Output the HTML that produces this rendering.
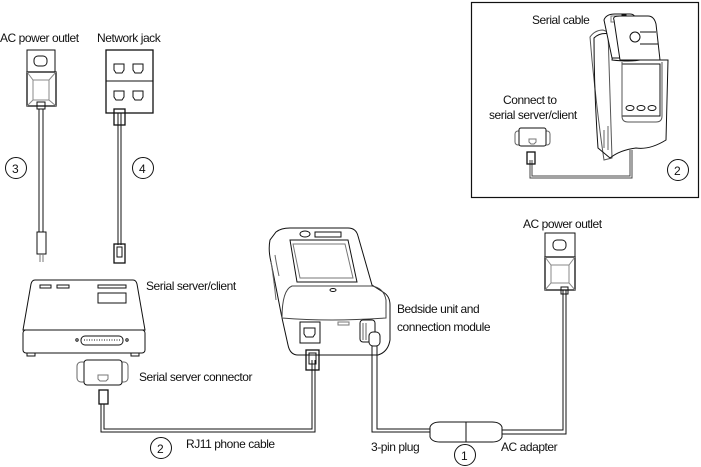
<!DOCTYPE html>
<html><head><meta charset="utf-8"><style>
html,body{margin:0;padding:0;background:#fff;width:701px;height:467px;overflow:hidden}
svg{display:block}
text{font-family:"Liberation Sans",sans-serif;font-size:12px;fill:#111;letter-spacing:-0.45px}
</style></head><body>
<svg width="701" height="467" viewBox="0 0 701 467" xmlns="http://www.w3.org/2000/svg" fill="none" stroke="#111" stroke-width="1">
<rect x="471.5" y="2.5" width="227" height="195" stroke-width="1.2"/>

<g stroke="none">
<text x="0" y="42">AC power outlet</text>
<text x="97" y="42">Network jack</text>
<text x="532" y="24">Serial cable</text>
<text x="503" y="104">Connect to</text>
<text x="489" y="119">serial server/client</text>
<text x="523" y="228">AC power outlet</text>
<text x="146" y="290">Serial server/client</text>
<text x="397" y="313">Bedside unit  and</text>
<text x="397" y="331">connection module</text>
<text x="139" y="381">Serial server connector</text>
<text x="186" y="448">RJ11 phone cable</text>
<text x="371" y="451">3-pin plug</text>
<text x="501" y="451">AC adapter</text>
<text x="12" y="173">3</text>
<text x="139" y="173">4</text>
<text x="157" y="453">2</text>
<text x="461" y="460">1</text>
<text x="674" y="175">2</text>
</g>
<circle cx="16" cy="168" r="10.5"/>
<circle cx="143" cy="168" r="10.5"/>
<circle cx="161" cy="448" r="10.5"/>
<circle cx="465" cy="455" r="10.5"/>
<circle cx="678" cy="170" r="10.5"/>

<rect x="27" y="50" width="28" height="22"/>
<rect x="34" y="56" width="13" height="10" rx="4"/>
<rect x="27" y="72" width="29" height="34" stroke-width="1.3"/>
<path d="M27 72 l6 8 h16 l7 -8 M33 80 v20 l-6 6 M49 80 v20 l7 6 M33 100 h16" stroke="#888"/>
<rect x="37" y="102" width="8" height="7"/>
<path d="M39 109 V232 M43 109 V232"/>
<rect x="37" y="232" width="9" height="22"/>
<path d="M40 254 V262 M43 254 V262" stroke="#777"/>

<rect x="106" y="50" width="47" height="63" stroke-width="1.3"/>
<line x1="106" y1="81" x2="153" y2="81"/>
<g>
<path d="M114 64 h10 v6 l-2 3 h-6 l-2 -3 z"/>
<path d="M133 64 h10 v6 l-2 3 h-6 l-2 -3 z"/>
<path d="M114 91 h10 v6 l-2 3 h-6 l-2 -3 z"/>
<path d="M133 91 h10 v6 l-2 3 h-6 l-2 -3 z"/>
</g>
<rect x="114" y="109" width="11" height="16" stroke-width="1.3"/>
<path d="M118 113 V245 M121 113 V245"/>
<rect x="114" y="244" width="11" height="19" stroke-width="1.3"/>
<rect x="117" y="247" width="5" height="10"/>

<path d="M35 280 H133 Q136 280 137 284 L145 330 H23 L31 284 Q32 280 35 280 Z"/>
<rect x="23" y="330" width="122" height="23" rx="3"/>
<rect x="27" y="353" width="8" height="3"/>
<rect x="131" y="353" width="8" height="3"/>
<rect x="40" y="285" width="11" height="3"/>
<rect x="57" y="285" width="12" height="3"/>
<rect x="98" y="285" width="28" height="3"/>
<rect x="98" y="293" width="28" height="10"/>
<rect x="81" y="336" width="42" height="9" rx="4"/>
<path d="M84 340 H120" stroke-dasharray="1 1.5"/>
<circle cx="77" cy="340" r="1.2"/><circle cx="127" cy="340" r="1.2"/>

<rect x="77" y="362" width="12" height="20" rx="4" stroke="#666"/>
<rect x="116" y="362" width="12" height="20" rx="4" stroke="#666"/>
<rect x="84" y="360" width="38" height="25" rx="3" fill="#fff"/>
<path d="M98 375 h10 v4 l-2 2 h-6 l-2 -2 z" stroke="#777"/>
<rect x="99" y="390" width="9" height="14" stroke-width="1.3"/>
<path d="M101 404 V432 H315 V360 M104 404 V429 H312 V360"/>

<path d="M276 232 Q281 228 290 228 H348 Q356 228 358 236 L372 285 L383 292 Q390 296 390 305 V340 Q388 352 378 355 H298 Q290 355 288 345 L282 318 L271 262 Q268 250 270 240 Z"/>
<path d="M290 240 H348 L357 282 H297 Z"/>
<path d="M293 244 H345 L353 278 H300 Z" stroke="#777"/>
<path d="M282 318 Q282 290 292 286 H372 Q384 288 386 300 V318 Q330 322 282 318 Z" stroke="#444"/>
<path d="M300 234 a5 3 0 1 0 10 0 a5 3 0 1 0 -10 0 M315 232 h26 v5 h-26 z"/>
<ellipse cx="333" cy="290" rx="3" ry="1.5"/>
<path d="M271 262 Q274 280 276 300 M275 255 Q276 262 279 276" stroke="#666"/>
<rect x="300" y="322" width="20" height="21"/>
<path d="M304 328 h11 v6 l-2 3 h-7 l-2 -3 z"/>
<rect x="306" y="350" width="13" height="20" stroke-width="1.3"/>
<rect x="309" y="353" width="7" height="11"/>
<rect x="338" y="322" width="11" height="3" stroke="#777"/>
<rect x="360" y="320" width="15" height="22" rx="3" fill="#fff"/>
<path d="M363 323 V340 M366 323 V340" stroke="#666"/>
<rect x="369" y="332" width="11" height="14" rx="4" fill="#fff"/>
<path d="M372 346 V432 H430 M377 346 V429 H430"/>

<path d="M430 427 Q432 422 440 422 H466 V442 H440 Q432 442 430 437 Z"/>
<path d="M466 422 H492 Q500 422 502 427 V437 Q500 442 492 442 H466"/>
<path d="M502 430 H563 V290 M502 434 H566 V290"/>

<rect x="545" y="233" width="30" height="24"/>
<rect x="553" y="240" width="13" height="10" rx="4"/>
<rect x="545" y="257" width="30" height="33" stroke-width="1.3"/>
<path d="M545 257 l6 8 h18 l6 -8 M551 265 v18 l-6 7 M569 265 v18 l6 7 M551 283 h18" stroke="#888"/>
<rect x="561" y="287" width="7" height="7"/>

<path d="M590 37 Q595 30 603 30 L608 32 L612 158 L604 160 Q598 120 592 60 Z" stroke="#555"/>
<path d="M594 38 Q600 32 610 34 Q614 50 612 60 Q630 62 640 60 Q650 58 654 60 L668 60 L666 140 Q650 150 636 148 Q620 150 610 158 L598 148 Q594 90 594 38 Z"/>
<path d="M604 20 Q606 14 615 14 H630 Q636 14 636 22 L640 58 H612 Z" fill="#fff"/>
<path d="M611 16 h16 v6 h-16 z" stroke="#777"/>
<path d="M622 14 h4 v4 h-4 z" fill="#111"/>
<path d="M614 20 Q612 16 620 16 H648 Q654 16 656 24 L660 60 H620 Z" fill="#fff"/>
<circle cx="635" cy="37" r="5"/>
<path d="M640 32 H656 M640 44 H658"/>
<path d="M622 64 H660 V116 H622 Z"/>
<path d="M622 62 V116 Q622 122 628 122 H656 Q662 122 662 116 V62" stroke="#555"/>
<ellipse cx="630" cy="108" rx="4" ry="2.5"/>
<ellipse cx="641" cy="108" rx="4" ry="2.5"/>
<ellipse cx="652" cy="108" rx="4" ry="2.5"/>
<path d="M604 130 V148 M608 126 V150" stroke="#666"/>
<path d="M630 150 V176 H532 V160 M632 150 V178 H530 V160" stroke="#444"/>
<rect x="515" y="131" width="8" height="14" rx="3" stroke="#666"/>
<rect x="542" y="131" width="8" height="14" rx="3" stroke="#666"/>
<rect x="519" y="128" width="27" height="18" rx="2" fill="#fff"/>
<path d="M529 139 h7 v3 l-2 2 h-3 l-2 -2 z" stroke="#777"/>
<rect x="527" y="152" width="8" height="12" stroke-width="1.3"/>
</svg>
</body></html>
